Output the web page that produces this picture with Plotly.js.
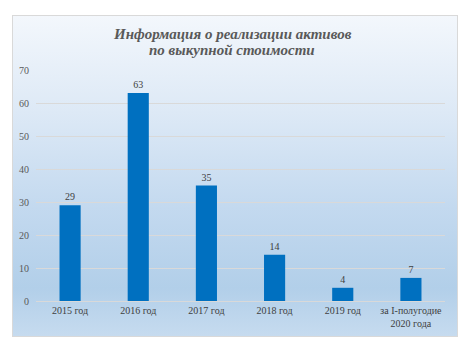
<!DOCTYPE html>
<html><head><meta charset="utf-8">
<script src="https://cdn.plot.ly/plotly-3.0.1.min.js"></script>
<style>
html,body{margin:0;padding:0;width:469px;height:352px;background:#fff;overflow:hidden;}
#frame{position:absolute;left:12px;top:15px;width:444px;height:320px;border:1px solid #d9d9d9;
background:linear-gradient(to bottom,#f3f7fc 0%,#dde9f6 30%,#c3d9ef 60%,#b2cfe9 85%,#c6dbef 100%);}
#chart{position:absolute;left:0;top:0;width:469px;height:352px;}
</style></head>
<body>
<div id="frame"></div>
<div id="chart"></div>
<script>
var titleLines = ["Информация о реализации активов", "по выкупной стоимости"];
var categories = ["2015 год","2016 год","2017 год","2018 год","2019 год","за I-полугодие<br>2020 года"];
var values = [29, 63, 35, 14, 4, 7];
var yTicks = [0,10,20,30,40,50,60,70];

var serif = "'Liberation Serif', 'Times New Roman', serif";

var trace = {
  type: "bar",
  x: categories,
  y: values,
  text: values.map(String),
  textposition: "outside",
  cliponaxis: false,
  textfont: {family: serif, size: 10, color: "#404040"},
  marker: {color: "#0070c0"},
  hoverinfo: "none"
};

var titleFont = {family: serif, size: 15, color: "#595959", style: "italic", weight: "bold"};

var layout = {
  width: 469, height: 352,
  margin: {l: 36, r: 24, t: 70, b: 51},
  paper_bgcolor: "rgba(0,0,0,0)",
  plot_bgcolor: "rgba(0,0,0,0)",
  bargap: 0.69,
  showlegend: false,
  annotations: [
    {text: titleLines[0], xref: "paper", yref: "paper", x: 0.48, y: (352-34-51)/231, xanchor: "center", yanchor: "middle", showarrow: false, font: titleFont},
    {text: titleLines[1], xref: "paper", yref: "paper", x: 0.48, y: (352-50-51)/231, xanchor: "center", yanchor: "middle", showarrow: false, font: titleFont}
  ],
  xaxis: {
    type: "category",
    showgrid: false, showline: false, zeroline: false,
    ticks: "", ticklen: 0,
    ticklabelstandoff: 2,
    tickfont: {family: serif, size: 10, color: "#404040"},
    tickangle: 0
  },
  yaxis: {
    range: [0, 70],
    tickvals: yTicks,
    ticktext: yTicks.map(String),
    showgrid: true, gridcolor: "#d9d9d9", gridwidth: 1,
    zeroline: true, zerolinecolor: "#d9d9d9", zerolinewidth: 1,
    showline: false, ticks: "",
    ticklabelstandoff: 6,
    tickfont: {family: serif, size: 10, color: "#595959"}
  }
};

Plotly.newPlot("chart", [trace], layout, {displayModeBar: false, staticPlot: true});
</script>
</body></html>
